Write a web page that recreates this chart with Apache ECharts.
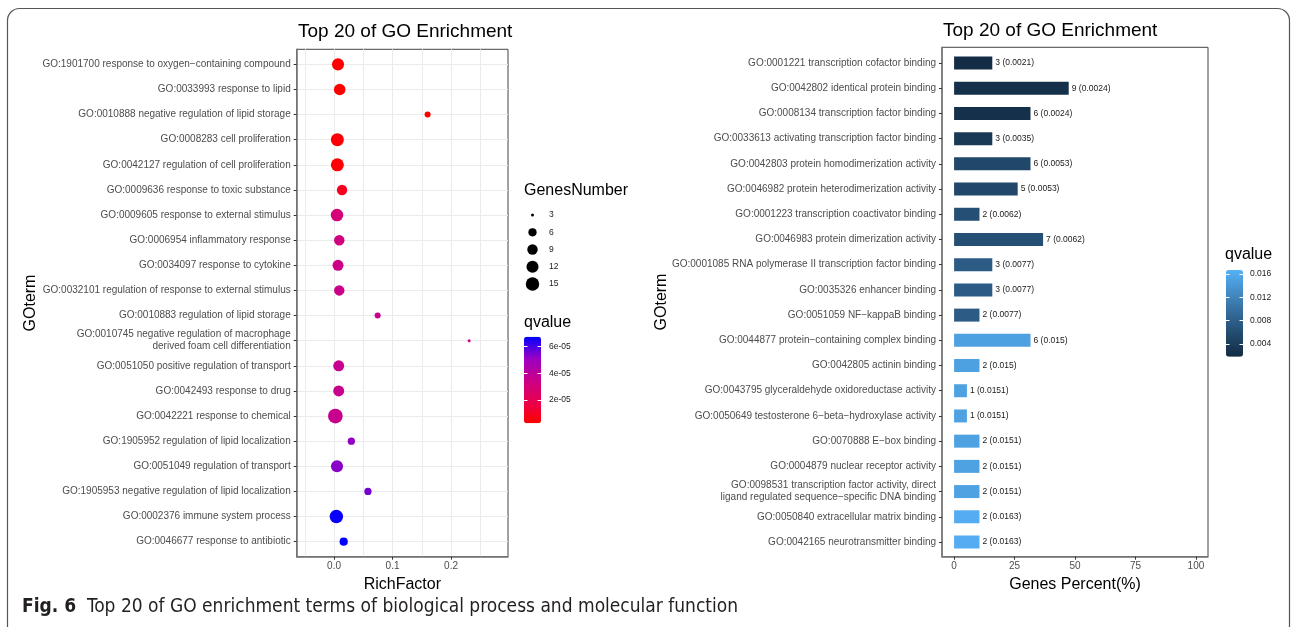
<!DOCTYPE html>
<html><head><meta charset="utf-8">
<script src="https://cdn.jsdelivr.net/npm/echarts@6/dist/echarts.min.js"></script>
<style>html,body{margin:0;padding:0;background:#fff}#c{width:1292px;height:627px}</style>
</head><body><div id="c"></div>
<script>
// ---------- Biological process (left) ----------
const bpTerms = [
  'GO:1901700 response to oxygen\u2212containing compound',
  'GO:0033993 response to lipid',
  'GO:0010888 negative regulation of lipid storage',
  'GO:0008283 cell proliferation',
  'GO:0042127 regulation of cell proliferation',
  'GO:0009636 response to toxic substance',
  'GO:0009605 response to external stimulus',
  'GO:0006954 inflammatory response',
  'GO:0034097 response to cytokine',
  'GO:0032101 regulation of response to external stimulus',
  'GO:0010883 regulation of lipid storage',
  'GO:0010745 negative regulation of macrophage\nderived foam cell differentiation',
  'GO:0051050 positive regulation of transport',
  'GO:0042493 response to drug',
  'GO:0042221 response to chemical',
  'GO:1905952 regulation of lipid localization',
  'GO:0051049 regulation of transport',
  'GO:1905953 negative regulation of lipid localization',
  'GO:0002376 immune system process',
  'GO:0046677 response to antibiotic'
];
const bpRichFactor = [0.0068, 0.0097, 0.160, 0.0057, 0.0057, 0.0137, 0.0051, 0.009, 0.0068, 0.009,
                      0.0746, 0.231, 0.008, 0.008, 0.0023, 0.0296, 0.0051, 0.058, 0.004, 0.0165];
const bpGenes = [12, 11, 4, 14, 14, 9, 13, 9, 10, 9, 4, 3, 10, 10, 18, 5, 12, 5, 15, 6];
const bpQvalue = [2.5e-6, 2.8e-6, 3.2e-6, 3.6e-6, 3.9e-6, 9e-6, 3.0e-5, 3.2e-5, 3.5e-5, 3.5e-5,
                  3.5e-5, 3.5e-5, 3.6e-5, 3.6e-5, 3.6e-5, 5.2e-5, 5.3e-5, 5.5e-5, 6.65e-5, 6.75e-5];
const richTickValues = [0, 0.1, 0.2];
const richGridValues = [-0.05, 0, 0.05, 0.1, 0.15, 0.2, 0.25];
const sizeLegendValues = [3, 6, 9, 12, 15];
const bpQLegendTicks = [2e-5, 4e-5, 6e-5];
const bpQLegendLabels = ['2e-05', '4e-05', '6e-05'];

// ---------- Molecular function (right) ----------
const mfTerms = [
  'GO:0001221 transcription cofactor binding',
  'GO:0042802 identical protein binding',
  'GO:0008134 transcription factor binding',
  'GO:0033613 activating transcription factor binding',
  'GO:0042803 protein homodimerization activity',
  'GO:0046982 protein heterodimerization activity',
  'GO:0001223 transcription coactivator binding',
  'GO:0046983 protein dimerization activity',
  'GO:0001085 RNA polymerase II transcription factor binding',
  'GO:0035326 enhancer binding',
  'GO:0051059 NF\u2212kappaB binding',
  'GO:0044877 protein\u2212containing complex binding',
  'GO:0042805 actinin binding',
  'GO:0043795 glyceraldehyde oxidoreductase activity',
  'GO:0050649 testosterone 6\u2212beta\u2212hydroxylase activity',
  'GO:0070888 E\u2212box binding',
  'GO:0004879 nuclear receptor activity',
  'GO:0098531 transcription factor activity, direct\nligand regulated sequence\u2212specific DNA binding',
  'GO:0050840 extracellular matrix binding',
  'GO:0042165 neurotransmitter binding'
];
const mfGenes = [3, 9, 6, 3, 6, 5, 2, 7, 3, 3, 2, 6, 2, 1, 1, 2, 2, 2, 2, 2];
const mfPercent = [15.8, 47.4, 31.6, 15.8, 31.6, 26.3, 10.5, 36.8, 15.8, 15.8,
                   10.5, 31.6, 10.5, 5.3, 5.3, 10.5, 10.5, 10.5, 10.5, 10.5];
const mfQvalue = [0.0021, 0.0024, 0.0024, 0.0035, 0.0053, 0.0053, 0.0062, 0.0062, 0.0077, 0.0077,
                  0.0077, 0.015, 0.015, 0.0151, 0.0151, 0.0151, 0.0151, 0.0151, 0.0163, 0.0163];
const percentTickValues = [0, 25, 50, 75, 100];
const mfQLegendTicks = [0.004, 0.008, 0.012, 0.016];

// ---------- styling helpers ----------
const FONT = "'Liberation Sans', Arial, Helvetica, sans-serif";
const NARROW = "'DejaVu Sans Condensed', 'Liberation Sans', sans-serif";
const GENE_MIN = 3, GENE_MAX = 18, DOT_MIN = 3, DOT_MAX = 14.7;
function dotSize(n) {
  const t = Math.max(0, (n - GENE_MIN) / (GENE_MAX - GENE_MIN));
  return DOT_MIN + (DOT_MAX - DOT_MIN) * Math.sqrt(t);
}
const redBlue = ['#FF0000', '#E8004F', '#CA0089', '#9A00C3', '#0000FF'];
const navyBlue = ['#132B43', '#22496C', '#336A98', '#448DC6', '#56B1F7'];
const bpIdx = bpTerms.map((_, i) => i + 1);
const hidden = { show: false };

const chart = echarts.init(document.getElementById('c'), null, { renderer: 'canvas' });
const option = {
  animation: false,
  backgroundColor: '#fff',
  textStyle: { fontFamily: FONT },
  title: [
    { text: 'Top 20 of GO Enrichment', left: 298, top: 22, padding: 0,
      textStyle: { fontSize: 19, fontWeight: 'normal', color: '#000', fontFamily: FONT } },
    { text: 'Top 20 of GO Enrichment', left: 943, top: 21, padding: 0,
      textStyle: { fontSize: 19, fontWeight: 'normal', color: '#000', fontFamily: FONT } },
    { text: 'GenesNumber', left: 524, top: 183, padding: 0,
      textStyle: { fontSize: 16, fontWeight: 'normal', color: '#000', fontFamily: FONT } },
    { text: 'qvalue', left: 524, top: 315, padding: 0,
      textStyle: { fontSize: 16, fontWeight: 'normal', color: '#000', fontFamily: FONT } },
    { text: 'qvalue', left: 1225, top: 247, padding: 0,
      textStyle: { fontSize: 16, fontWeight: 'normal', color: '#000', fontFamily: FONT } },
    { text: '{b|Fig. 6}{n|  Top 20 of GO enrichment terms of biological process and molecular function}',
      left: 22, top: 598, padding: 0,
      textStyle: { rich: {
        b: { fontSize: 19, fontWeight: 'bold', fontFamily: NARROW, color: '#231f20' },
        n: { fontSize: 19, fontWeight: 'normal', fontFamily: NARROW, color: '#231f20' } } } }
  ],
  graphic: [
    { type: 'rect', silent: true, z: -10,
      shape: { x: 7.5, y: 8.5, width: 1282, height: 700, r: 12 },
      style: { fill: 'none', stroke: '#555', lineWidth: 1.2 } }
  ],
  grid: [
    { left: 296.7, top: 49.3, width: 211.3, height: 507.4, show: true, borderColor: '#444', borderWidth: 1, backgroundColor: 'transparent', containLabel: false, outerBoundsMode: 'none' },
    { left: 524, top: 206.4, width: 17, height: 86.3, containLabel: false, outerBoundsMode: 'none' },
    { left: 524, top: 336.7, width: 17, height: 86.6, containLabel: false, outerBoundsMode: 'none' },
    { left: 942, top: 47.3, width: 266, height: 509.4, show: true, borderColor: '#444', borderWidth: 1, backgroundColor: 'transparent', containLabel: false, outerBoundsMode: 'none' },
    { left: 942, top: 50.4, width: 266, height: 504.2, containLabel: false, outerBoundsMode: 'none' },
    { left: 1226, top: 270, width: 17, height: 86.7, containLabel: false, outerBoundsMode: 'none' }
  ],
  xAxis: [
    { gridIndex: 0, type: 'value', min: -0.0638, max: 0.2974, position: 'bottom',
      name: 'RichFactor', nameLocation: 'middle', nameGap: 14,
      nameTextStyle: { fontSize: 16, color: '#000', fontFamily: FONT },
      axisLine: { show: true, onZero: false, lineStyle: { color: '#777', width: 1.5 } },
      axisTick: { show: false, customValues: richGridValues },
      axisLabel: { customValues: richTickValues, formatter: v => v.toFixed(1), fontSize: 10, color: '#4d4d4d', margin: 5, fontFamily: FONT },
      splitLine: { show: true, lineStyle: { color: '#ebebeb', width: 1 } } },
    { gridIndex: 0, type: 'value', min: -0.0638, max: 0.2974, position: 'bottom',
      axisLine: { show: false, onZero: false },
      axisTick: { show: true, customValues: richTickValues, length: 3, lineStyle: { color: '#333' } },
      axisLabel: { show: false }, splitLine: { show: false } },
    { gridIndex: 1, type: 'value', min: -1, max: 1, show: false },
    { gridIndex: 2, type: 'value', min: 0, max: 1, show: false },
    { gridIndex: 3, type: 'value', min: -5, max: 105, position: 'bottom',
      name: 'Genes Percent(%)', nameLocation: 'middle', nameGap: 14,
      nameTextStyle: { fontSize: 16, color: '#000', fontFamily: FONT },
      axisLine: { show: true, onZero: false, lineStyle: { color: '#777', width: 1.5 } },
      axisTick: { show: true, customValues: percentTickValues, length: 3, lineStyle: { color: '#333' } },
      axisLabel: { customValues: percentTickValues, fontSize: 10, color: '#4d4d4d', margin: 5, fontFamily: FONT },
      splitLine: { show: false } },
    { gridIndex: 4, type: 'value', min: -5, max: 105, show: false, axisLine: { show: false, onZero: false } },
    { gridIndex: 5, type: 'value', min: 0, max: 1, show: false }
  ],
  yAxis: [
    { gridIndex: 0, type: 'value', min: 0.4, max: 20.6, inverse: true, position: 'left',
      name: 'GOterm', nameLocation: 'middle', nameGap: 253,
      nameTextStyle: { fontSize: 16, color: '#000', fontFamily: FONT },
      axisLine: { show: true, onZero: false, lineStyle: { color: '#777', width: 1.5 } },
      axisTick: { show: true, customValues: bpIdx, length: 3, lineStyle: { color: '#333' } },
      axisLabel: { customValues: bpIdx, formatter: v => bpTerms[Math.round(v) - 1], fontSize: 10,
                   color: '#4d4d4d', margin: 6, lineHeight: 12, fontFamily: FONT },
      splitLine: { show: true, lineStyle: { color: '#ebebeb', width: 1 } } },
    { gridIndex: 1, type: 'category', data: sizeLegendValues.map(String), inverse: true, position: 'right',
      axisLine: { show: false, onZero: false }, axisTick: hidden, splitLine: hidden,
      axisLabel: { fontSize: 8.5, color: '#1a1a1a', margin: 8, fontFamily: FONT } },
    { gridIndex: 2, type: 'value', min: 2.5e-6, max: 6.75e-5, position: 'right', z: 10,
      axisLine: { show: false, onZero: false }, splitLine: hidden,
      axisTick: { show: true, inside: true, length: 3.5, customValues: bpQLegendTicks, lineStyle: { color: '#fff', width: 1 } },
      axisLabel: { customValues: bpQLegendTicks, margin: 8, fontSize: 8.5, color: '#1a1a1a', fontFamily: FONT,
                   formatter: v => { const k = bpQLegendTicks.findIndex(t => Math.abs(t - v) < 1e-9); return k < 0 ? '' : bpQLegendLabels[k]; } } },
    { gridIndex: 2, type: 'value', min: 2.5e-6, max: 6.75e-5, position: 'left', z: 10,
      axisLine: { show: false, onZero: false }, splitLine: hidden, axisLabel: hidden,
      axisTick: { show: true, inside: true, length: 3.5, customValues: bpQLegendTicks, lineStyle: { color: '#fff', width: 1 } } },
    { gridIndex: 3, type: 'value', min: 0, max: 1, position: 'left',
      name: 'GOterm', nameLocation: 'middle', nameGap: 272,
      nameTextStyle: { fontSize: 16, color: '#000', fontFamily: FONT },
      axisLine: { show: true, onZero: false, lineStyle: { color: '#777', width: 1.5 } },
      axisTick: hidden, axisLabel: hidden, splitLine: hidden },
    { gridIndex: 4, type: 'category', data: mfTerms, inverse: true, position: 'left',
      axisLine: { show: false, onZero: false },
      axisTick: { show: true, alignWithLabel: true, length: 3, interval: 0, lineStyle: { color: '#333' } },
      axisLabel: { interval: 0, fontSize: 10, color: '#4d4d4d', margin: 6, lineHeight: 12, fontFamily: FONT },
      splitLine: hidden },
    { gridIndex: 5, type: 'value', min: 0.0018, max: 0.0167, position: 'right', z: 10,
      axisLine: { show: false, onZero: false }, splitLine: hidden,
      axisTick: { show: true, inside: true, length: 3.5, customValues: mfQLegendTicks, lineStyle: { color: '#fff', width: 1 } },
      axisLabel: { customValues: mfQLegendTicks, margin: 7, fontSize: 8.5, color: '#1a1a1a', fontFamily: FONT,
                   formatter: v => v.toFixed(3) } },
    { gridIndex: 5, type: 'value', min: 0.0018, max: 0.0167, position: 'left', z: 10,
      axisLine: { show: false, onZero: false }, splitLine: hidden, axisLabel: hidden,
      axisTick: { show: true, inside: true, length: 3.5, customValues: mfQLegendTicks, lineStyle: { color: '#fff', width: 1 } } }
  ],
  visualMap: [
    { type: 'continuous', seriesIndex: 0, dimension: 3, min: 2.5e-6, max: 6.75e-5,
      inRange: { color: redBlue }, left: 524, top: 336.7, itemWidth: 17, itemHeight: 86.6,
      padding: 0, calculable: false, hoverLink: false, orient: 'vertical' },
    { type: 'continuous', seriesIndex: 2, dimension: 2, min: 0.0018, max: 0.0167,
      inRange: { color: navyBlue }, left: 1226, top: 270, itemWidth: 17, itemHeight: 86.7,
      padding: 0, calculable: false, hoverLink: false, orient: 'vertical' }
  ],
  series: [
    { type: 'scatter', xAxisIndex: 0, yAxisIndex: 0, z: 5,
      data: bpRichFactor.map((rf, i) => [rf, i + 1, bpGenes[i], bpQvalue[i]]),
      symbol: 'circle', symbolSize: val => dotSize(val[2]),
      itemStyle: { opacity: 1 } },
    { type: 'scatter', xAxisIndex: 2, yAxisIndex: 1,
      data: sizeLegendValues.map(v => [0, String(v), v]),
      symbol: 'circle', symbolSize: val => dotSize(val[2]),
      itemStyle: { color: '#000', opacity: 1 } },
    { type: 'bar', xAxisIndex: 5, yAxisIndex: 5, barWidth: 13,
      data: mfPercent.map((p, i) => [p, mfTerms[i], mfQvalue[i], mfGenes[i]]),
      encode: { x: 0, y: 1 },
      label: { show: true, position: 'right', distance: 3, fontSize: 8.5, color: '#1a1a1a', fontFamily: FONT,
               formatter: p => p.data[3] + ' (' + p.data[2] + ')' } }
  ]
};
chart.setOption(option);
</script>
</body></html>
